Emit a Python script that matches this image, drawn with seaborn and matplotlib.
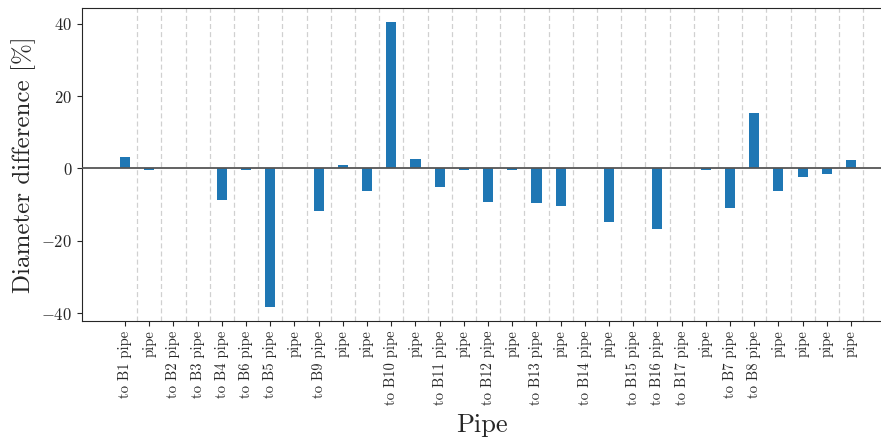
import matplotlib
matplotlib.use("Agg")
import matplotlib.pyplot as plt
import seaborn as sns
import numpy as np

pipes = [
    "to B1 pipe", "pipe", "to B2 pipe", "to B3 pipe", "to B4 pipe",
    "to B6 pipe", "to B5 pipe", "pipe", "to B9 pipe", "pipe",
    "pipe", "to B10 pipe", "pipe", "to B11 pipe", "pipe",
    "to B12 pipe", "pipe", "to B13 pipe", "pipe", "to B14 pipe",
    "pipe", "to B15 pipe", "to B16 pipe", "to B17 pipe", "pipe",
    "to B7 pipe", "to B8 pipe", "pipe", "pipe", "pipe", "pipe",
]
diameter_diff = [
    3.3, -0.3, 0.0, 0.0, -8.7,
    -0.3, -38.3, 0.0, -11.7, 0.9,
    -6.1, 40.6, 2.6, -5.0, -0.3,
    -9.2, -0.3, -9.5, -10.3, 0.0,
    -14.8, 0.0, -16.7, 0.0, -0.3,
    -10.8, 15.4, -6.1, -2.3, -1.4, 2.4,
]

sns.set_style("ticks")
plt.rcParams["font.family"] = ["cmr10"]
plt.rcParams["mathtext.fontset"] = "cm"
plt.rcParams["axes.formatter.use_mathtext"] = True
plt.rcParams["axes.unicode_minus"] = True

fig = plt.figure(figsize=(8.81, 4.37), dpi=100)
ax = fig.add_axes([82 / 881, (437 - 321) / 437, 1 - 82 / 881, (321 - 8) / 437])

idx = np.arange(len(pipes))
sns.barplot(x=idx, y=diameter_diff, color="#1f77b4", width=0.42,
            saturation=1, linewidth=0, edgecolor="none", ax=ax, zorder=2)

# separators between neighbouring pipes
for x in idx + 0.5:
    ax.axvline(x, color="#d0d0d0", lw=0.9, ls=(0, (4, 2.5)), zorder=0)
ax.axhline(0, color="#555555", lw=1.3, zorder=3)

ax.set_xticks(idx)
ax.set_xticklabels(pipes, rotation=90, fontsize=10.5)
ax.set_xlim(-1.78, 31.24)
ax.set_ylim(-42.2, 44.4)
ax.set_yticks([-40, -20, 0, 20, 40])
ax.tick_params(axis="y", labelsize=12)
ax.set_xlabel("Pipe", fontsize=19, labelpad=6)
ax.set_ylabel("Diameter difference [%]", fontsize=18)
ax.spines["right"].set_visible(False)

fig.savefig("out.png", dpi=100)
